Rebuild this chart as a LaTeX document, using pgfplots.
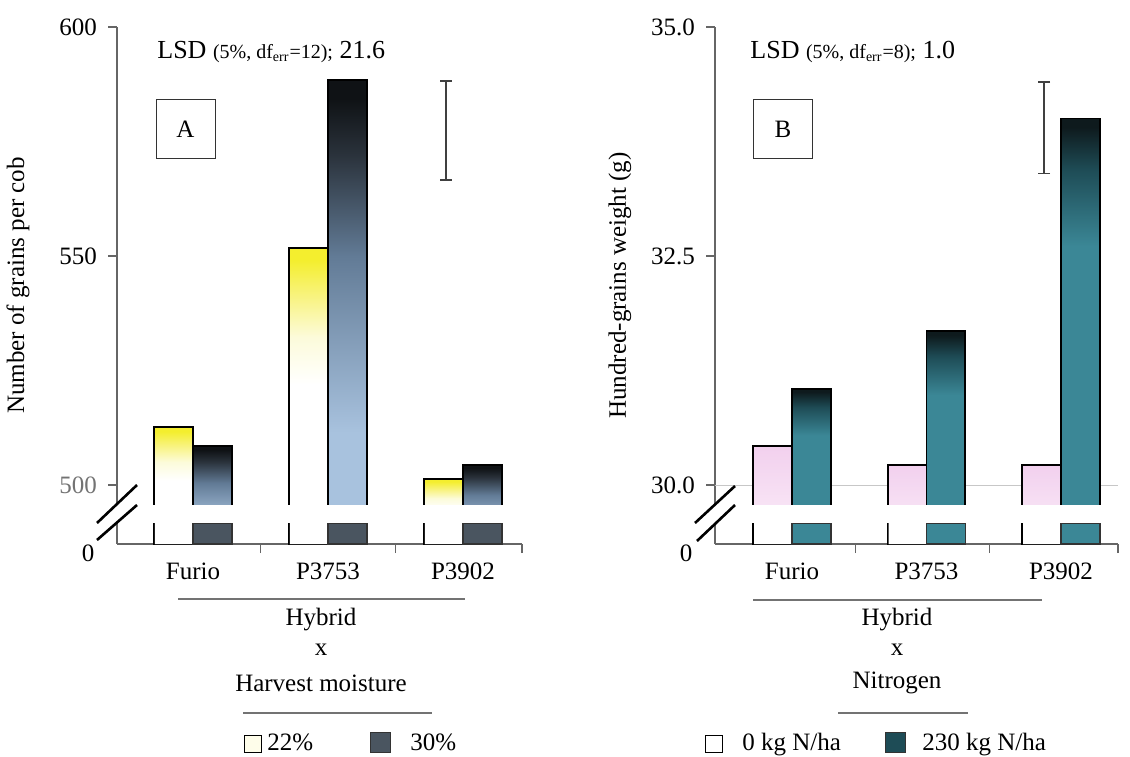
\documentclass[border=0pt]{standalone}
\usepackage{pgfplots}
\pgfplotsset{compat=1.18}
\usepackage{fontspec}
\setmainfont{Liberation Serif}

\definecolor{yel}{HTML}{F4EE2E}
\definecolor{yelB}{HTML}{F8F37E}
\definecolor{yelC}{HTML}{FCFBDA}
\definecolor{dkA}{HTML}{0F1215}
\definecolor{dkA2}{HTML}{2A323B}
\definecolor{midA}{HTML}{627B96}
\definecolor{lightA}{HTML}{A8C2DE}
\definecolor{stubA}{HTML}{4A5560}
\definecolor{teal}{HTML}{3B8796}
\definecolor{tealD}{HTML}{1E4C56}
\definecolor{dkT}{HTML}{0E1A1D}
\definecolor{pinkT}{HTML}{F2D0EE}
\definecolor{pinkB}{HTML}{FBEFF9}

\pgfdeclareverticalshading{yellowfade}{100bp}{color(0bp)=(white); color(25bp)=(white); color(52bp)=(white); color(60bp)=(yelC); color(67bp)=(yelB); color(73bp)=(yel); color(100bp)=(yel)}
\pgfdeclareverticalshading{bluefade}{100bp}{color(0bp)=(lightA); color(25bp)=(lightA); color(37bp)=(lightA); color(56bp)=(midA); color(67bp)=(dkA2); color(73bp)=(dkA); color(100bp)=(dkA)}
\pgfdeclareverticalshading{pinkfade}{100bp}{color(0bp)=(pinkB); color(25bp)=(pinkB); color(75bp)=(pinkT); color(100bp)=(pinkT)}
\pgfdeclareverticalshading{tealfade}{100bp}{color(0bp)=(teal); color(25bp)=(teal); color(60bp)=(teal); color(69bp)=(tealD); color(74bp)=(dkT); color(100bp)=(dkT)}

\newcommand{\fs}{\fontsize{12.5}{15}\selectfont}
\newcommand{\PX}[2]{({(#1)*0.5pt},{(756-(#2))*0.5pt})}

\pgfplotsset{
  barL/.style={ybar, bar width=0.289, bar shift=-0.1445, draw=black, line width=0.9pt},
  barR/.style={ybar, bar width=0.289, bar shift=0.1445, draw=black, line width=0.9pt},
  stub/.style={ybar, bar width=0.289, bar shift=0.1445, draw=black!80, line width=0.7pt},
  stubW/.style={ybar, bar width=0.282, bar shift=-0.141, draw=none, fill=white},
  lsd/.style={black!75, line width=0.6pt, mark=-, mark size=3pt, mark options={solid, line width=0.6pt}},
  common/.style={
    scale only axis, height=258.5pt, ymin=0,
    axis lines*=left,
    axis line style={black!60, line width=0.6pt},
    xtick={0,1,2}, xticklabels={Furio,P3753,P3902},
    xtick style={draw=none},
    extra x tick labels={},
    extra x tick style={xtick style={draw=black!60, line width=0.6pt}},
    ytick style={black!60, line width=0.6pt},
    tick align=outside, major tick length=4.5pt,
    tick label style={font=\fs},
    xticklabel style={anchor=base, yshift=-13pt},
    yticklabel style={xshift=-2pt},
    ylabel style={anchor=center, font=\fs},
  },
}

\begin{document}
\begin{tikzpicture}
\path[use as bounding box] (0pt,0pt) rectangle (565pt,378pt);

% ---------------- Panel A ----------------
\begin{axis}[common,
  at={(58.5pt,106pt)}, anchor=south west,
  width=202.5pt,
  xmin=-0.563, xmax=2.437, ymax=112.88,
  y filter/.expression={y-487.12},
  ytick={12.88,62.88,112.88}, yticklabels={\textcolor{black!55}{500},550,600},
  extra x ticks={0.5,1.5,2.437},
  ylabel={Number of grains per cob},
  ylabel style={at={(axis description cs:-0.2444,0.5)}},
]
% 22% harvest moisture
\addplot[barL, shading=yellowfade] coordinates {(0,512.7)};
\addplot[barL, shading=yellowfade] coordinates {(1,551.7)};
\addplot[barL, shading=yellowfade] coordinates {(2,501.3)};
% 30% harvest moisture
\addplot[barR, shading=bluefade] coordinates {(0,508.5)};
\addplot[barR, shading=bluefade] coordinates {(1,588.4)};
\addplot[barR, shading=bluefade] coordinates {(2,504.4)};
% segments below the axis break
\addplot[stubW] coordinates {(0,491.7) (1,491.7) (2,491.7)};
\addplot[stub, fill=stubA] coordinates {(0,491.7) (1,491.7) (2,491.7)};
% LSD bar
\addplot[lsd] coordinates {(1.874,588.2) (1.874,566.6)};
\end{axis}

% axis break A
\fill[white] \PX{105}{505} rectangle \PX{530}{523};
\draw[line width=1.3pt] \PX{97}{523} -- \PX{137}{485};
\draw[line width=1.3pt] \PX{97}{540} -- \PX{137}{505};
\node[font=\fs] at \PX{88}{553} {0};

\node[anchor=base west, inner sep=0] at \PX{157}{59}
  {\fontsize{13}{15}\selectfont LSD {\fontsize{10}{12}\selectfont(5\%, df\textsubscript{err}=12);} 21.6};
\node[draw=black!80, line width=0.5pt, minimum size=29.5pt, inner sep=0, font=\fs] at \PX{185.5}{129} {A};

\draw[black!55, line width=0.7pt] \PX{178}{599} -- \PX{465}{599};
\node[font=\fs] at \PX{321}{620} {Hybrid};
\node[font=\fs] at \PX{321}{650} {x};
\node[font=\fs] at \PX{321}{683} {Harvest moisture};
\draw[black!55, line width=0.7pt] \PX{243}{713} -- \PX{432}{713};

\draw[black, line width=0.5pt, fill=yel!10] \PX{244}{735} rectangle \PX{261}{752};
\node[font=\fs, anchor=base west, inner sep=0] at \PX{267}{750} {22\%};
\draw[black!80, line width=0.5pt, fill=stubA] \PX{370}{732} rectangle \PX{390}{752};
\node[font=\fs, anchor=base west, inner sep=0] at \PX{410}{750} {30\%};

% ---------------- Panel B ----------------
\begin{axis}[common,
  at={(357.5pt,106pt)}, anchor=south west,
  width=201.5pt,
  xmin=-0.5725, xmax=2.424, ymax=5.644,
  y filter/.expression={y-29.356},
  ytick={3.144,5.644}, yticklabels={32.5,35.0},
  extra y ticks={0.644}, extra y tick labels={30.0},
  extra y tick style={ymajorgrids=true, major grid style={black!22, line width=0.5pt}},
  extra x ticks={0.47,1.47,2.424},
  ylabel={Hundred-grains weight (g)},
  ylabel style={at={(axis description cs:-0.2357,0.5)}},
]
% 0 kg N/ha
\addplot[barL, shading=pinkfade] coordinates {(0,30.43)};
\addplot[barL, shading=pinkfade] coordinates {(1,30.22)};
\addplot[barL, shading=pinkfade] coordinates {(2,30.22)};
% 230 kg N/ha
\addplot[barR, shading=tealfade] coordinates {(0,31.05)};
\addplot[barR, shading=tealfade] coordinates {(1,31.68)};
\addplot[barR, shading=tealfade] coordinates {(2,34.0)};
% segments below the axis break
\addplot[stubW] coordinates {(0,29.585) (1,29.585) (2,29.585)};
\addplot[stub, fill=teal] coordinates {(0,29.585) (1,29.585) (2,29.585)};
% LSD bar
\addplot[lsd] coordinates {(1.874,34.40) (1.874,33.40)};
\end{axis}

% axis break B
\fill[white] \PX{703}{505} rectangle \PX{1125}{523};
\draw[line width=1.3pt] \PX{695}{523} -- \PX{735}{486};
\draw[line width=1.3pt] \PX{697}{541} -- \PX{735}{505};
\node[font=\fs] at \PX{686}{553} {0};

\node[anchor=base west, inner sep=0] at \PX{750}{59}
  {\fontsize{13}{15}\selectfont LSD {\fontsize{10}{12}\selectfont(5\%, df\textsubscript{err}=8);} 1.0};
\node[draw=black!80, line width=0.5pt, minimum size=29.5pt, inner sep=0, font=\fs] at \PX{783}{129} {B};

\draw[black!55, line width=0.7pt] \PX{753}{600} -- \PX{1042}{600};
\node[font=\fs] at \PX{897}{620} {Hybrid};
\node[font=\fs] at \PX{897}{650} {x};
\node[font=\fs] at \PX{897}{683} {Nitrogen};
\draw[black!55, line width=0.7pt] \PX{838}{713} -- \PX{968}{713};

\draw[black, line width=0.5pt, fill=white] \PX{705}{735} rectangle \PX{722}{752};
\node[font=\fs, anchor=base west, inner sep=0] at \PX{742}{750} {0 kg N/ha};
\draw[black!80, line width=0.5pt, fill=tealD] \PX{885}{732} rectangle \PX{905}{752};
\node[font=\fs, anchor=base west, inner sep=0] at \PX{922}{750} {230 kg N/ha};

\end{tikzpicture}
\end{document}
